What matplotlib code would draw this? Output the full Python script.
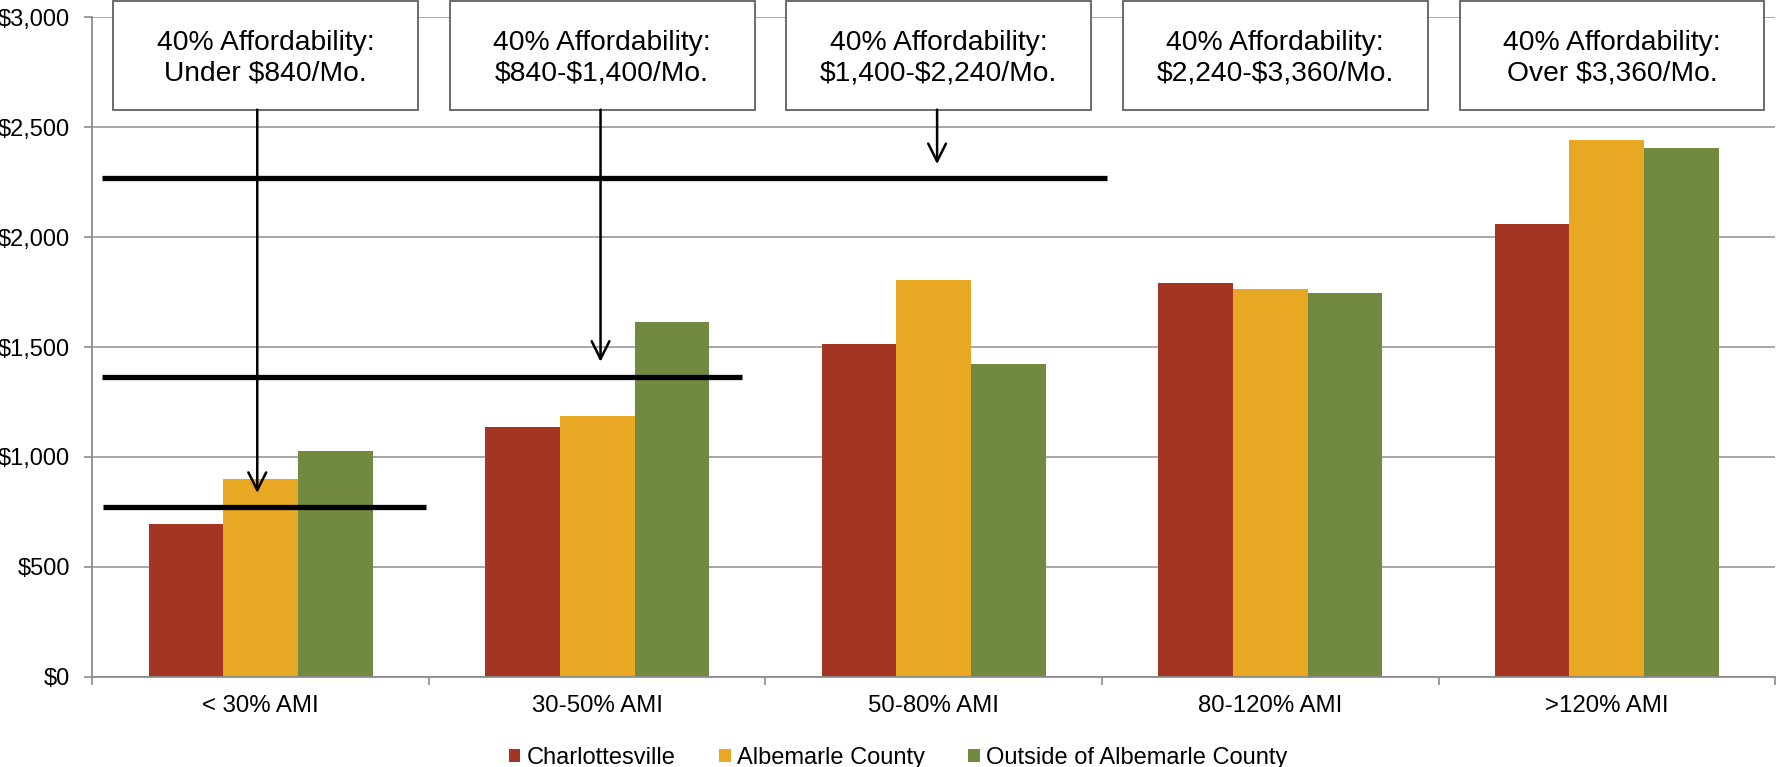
import matplotlib.pyplot as plt
import numpy as np
from matplotlib.patches import Rectangle, Patch

plt.rcParams['font.family'] = ['Liberation Sans', 'DejaVu Sans']
plt.rcParams['text.parse_math'] = False

categories = ['< 30% AMI', '30-50% AMI', '50-80% AMI', '80-120% AMI', '>120% AMI']
series_names = ['Charlottesville', 'Albemarle County', 'Outside of Albemarle County']
charlottesville = [695, 1137, 1513, 1792, 2062]
albemarle = [901, 1187, 1803, 1765, 2440]
outside = [1025, 1615, 1424, 1748, 2407]
colors = ['#A23623', '#E9A824', '#728A3F']

box_labels = ['40% Affordability:\nUnder $840/Mo.',
              '40% Affordability:\n$840-$1,400/Mo.',
              '40% Affordability:\n$1,400-$2,240/Mo.',
              '40% Affordability:\n$2,240-$3,360/Mo.',
              '40% Affordability:\nOver $3,360/Mo.']

# black reference lines (level, x start, x end) and arrows pointing at them
line_levels = [772, 1365, 2271]
line_x0 = [-0.467, -0.471, -0.471]
line_x1 = [0.49, 1.43, 2.515]
arrow_x = [-0.01, 1.01, 2.01]
arrow_tips = [836, 1433, 2332]

fig = plt.figure(figsize=(17.76, 7.67), dpi=100)
ax = fig.add_axes([0.052, 0.1177, 0.9475, 0.8597])

x = np.arange(len(categories))
w = 0.222
for i, vals in enumerate([charlottesville, albemarle, outside]):
    ax.bar(x + (i - 1) * w, vals, width=w, color=colors[i], zorder=2)

ax.set_xlim(-0.5, 4.5)
ax.set_ylim(0, 3000)
ax.set_yticks(np.arange(0, 3001, 500))
ax.set_yticklabels(['${:,}'.format(v) for v in range(0, 3001, 500)], fontsize=17)
ax.set_xticks(x)
ax.set_xticklabels(categories, fontsize=17.3)
ax.set_xticks(np.arange(-0.5, 4.6, 1), minor=True)
ax.tick_params(axis='x', which='major', length=0, pad=13)
ax.tick_params(axis='x', which='minor', length=6, width=1.2, color='#8c8c8c')
ax.tick_params(axis='y', length=6, width=1.2, color='#8c8c8c', pad=10)

ax.grid(axis='y', color='#a0a0a0', linewidth=1.3, zorder=0)
ax.set_axisbelow(True)
for s in ['top', 'right']:
    ax.spines[s].set_visible(False)
for s in ['left', 'bottom']:
    ax.spines[s].set_color('#8c8c8c')
    ax.spines[s].set_linewidth(1.3)

# threshold lines
for lv, a, b in zip(line_levels, line_x0, line_x1):
    ax.plot([a, b], [lv, lv], color='black', linewidth=3.8, solid_capstyle='butt', zorder=4)

# boxes on top
box_bottom, box_top = 2580, 3076
for i, lab in enumerate(box_labels):
    cx = i + 0.015
    r = Rectangle((cx - 0.4525, box_bottom), 0.905, box_top - box_bottom,
                  facecolor='white', edgecolor='#606060', linewidth=1.3,
                  zorder=5, clip_on=False)
    ax.add_patch(r)
    ax.text(cx, (box_bottom + box_top) / 2 - 15, lab, ha='center', va='center',
            fontsize=20.3, linespacing=1.22, zorder=6, clip_on=False)

for ax_x, tip in zip(arrow_x, arrow_tips):
    ax.annotate('', xy=(ax_x, tip), xytext=(ax_x, box_bottom),
                arrowprops=dict(arrowstyle='->', lw=1.8, color='black',
                                mutation_scale=32, shrinkA=0, shrinkB=0),
                annotation_clip=False, zorder=5)

handles = [Patch(facecolor=c) for c in colors]
fig.legend(handles, series_names, loc='center', bbox_to_anchor=(0.5056, 0.012),
           ncol=3, frameon=False, fontsize=17, handlelength=0.5, handleheight=0.5,
           handletextpad=0.25, columnspacing=1.85, borderpad=0, borderaxespad=0)

fig.savefig('out.png', dpi=100)
